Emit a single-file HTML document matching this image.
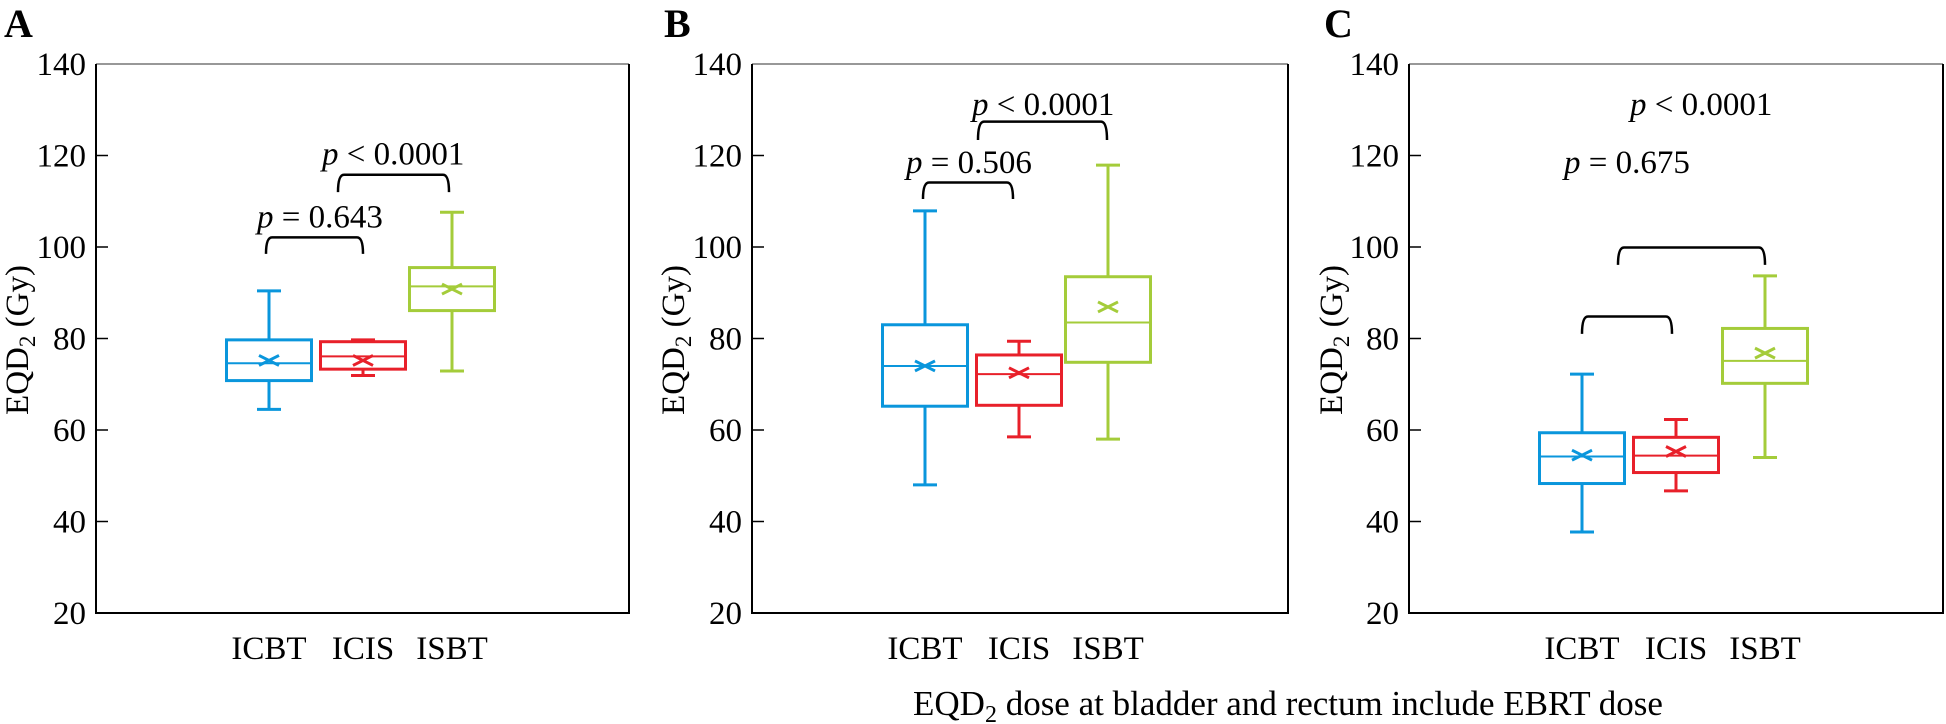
<!DOCTYPE html>
<html><head><meta charset="utf-8">
<style>
html,body{margin:0;padding:0;background:#fff;}
svg{display:block;font-family:"Liberation Serif",serif;}
</style></head>
<body>
<svg id="chart" width="1946" height="724" viewBox="0 0 1946 724" xmlns="http://www.w3.org/2000/svg"></svg>
<script>
const categories = ["ICBT","ICIS","ISBT"];
const yTicks = [20,40,60,80,100,120,140];
const panelLetters = ["A","B","C"];
// [whiskerLow, Q1, median, Q3, whiskerHigh, mean] per category
const panelA = [[64.5,70.8,74.6,79.7,90.4,75.2],[71.9,73.3,76.1,79.3,79.7,75.2],[72.9,86.1,91.4,95.5,107.6,90.8]];
const panelB = [[48.0,65.2,74.0,83.0,107.9,74.0],[58.5,65.4,72.2,76.4,79.4,72.5],[58.0,74.8,83.5,93.5,117.9,86.9]];
const panelC = [[37.7,48.3,54.2,59.4,72.2,54.5],[46.7,50.7,54.4,58.4,62.3,55.3],[54.0,70.2,75.1,82.2,93.7,76.8]];
// brackets: [barValue, legValue]
const bracketsA = [[102.1,98.5],[115.8,112.0]];
const bracketsB = [[114.1,110.5],[127.4,123.4]];
const bracketsC = [[84.8,81.0],[99.9,96.1]];
const pLabelsA = ["= 0.643","< 0.0001"];
const pLabelsB = ["= 0.506","< 0.0001"];
const pLabelsC = ["= 0.675","< 0.0001"];
const pLabelValsA = [104.3,118.0];
const pLabelValsB = [116.2,128.9];
const pLabelValsC = [116.2,128.9];

const colors = ["#0a96dc","#e8202a","#a4cc3a"];
const NS = "http://www.w3.org/2000/svg";
const svg = document.getElementById("chart");
const TOP = 64, BOT = 613;
const FS = 33;
function y(v){ return BOT - (v-20)/(140-20)*(BOT-TOP); }
function mk(tag, attrs, parent){ const e=document.createElementNS(NS,tag); for(const k in attrs) e.setAttribute(k,attrs[k]); (parent||svg).appendChild(e); return e; }

const panels = [
 {left:96,right:629,data:panelA,br:bracketsA,pl:pLabelsA,pv:pLabelValsA,letterX:4,titleX:28,labelX:[257,322],br1x:[266,363],br2x:[338,449]},
 {left:752,right:1288,data:panelB,br:bracketsB,pl:pLabelsB,pv:pLabelValsB,letterX:664,titleX:684,labelX:[906,972],br1x:[923,1013],br2x:[978,1107]},
 {left:1409,right:1943,data:panelC,br:bracketsC,pl:pLabelsC,pv:pLabelValsC,letterX:1324,titleX:1342,labelX:[1564,1630],br1x:[1582,1672],br2x:[1618,1765]}
];
const catOffsets = [173,267,356];
const boxW = 85;

panels.forEach((p,pi)=>{
  const g = mk("g",{});
  
  
  const letter = mk("text",{x:p.letterX,y:37,"font-size":40,"font-weight":"bold",fill:"#000"},g);
  letter.textContent = panelLetters[pi];
  
  
  mk("line",{x1:p.left,y1:TOP,x2:p.right,y2:TOP,stroke:"#777","stroke-width":1.5},g);
  const frame = mk("path",{d:`M${p.left},${TOP} V${BOT} H${p.right} V${TOP}`,fill:"none",stroke:"#000","stroke-width":2},g);
  
  
  yTicks.forEach(t=>{
    if(t!==20 && t!==140) mk("line",{x1:p.left,y1:y(t),x2:p.left+12,y2:y(t),stroke:"#000","stroke-width":1.5},g);
    const tl = mk("text",{x:p.left-10,y:y(t)+11,"font-size":FS,"text-anchor":"end",fill:"#000"},g);
    tl.textContent = t;
    
    
  });
  const cy = 340;
  const yt = mk("text",{x:p.titleX,y:cy,"font-size":FS,"text-anchor":"middle",fill:"#000",transform:`rotate(-90 ${p.titleX} ${cy})`},g);
  yt.innerHTML = 'EQD<tspan font-size="23" dy="7">2</tspan><tspan dy="-7"> (Gy)</tspan>';
  
  
  p.data.forEach((d,ci)=>{
    const cx = p.left + catOffsets[ci];
    const c = colors[ci];
    const bg = mk("g",{stroke:c,"stroke-width":3,fill:"none"},g);
    
    
    mk("line",{x1:cx,y1:y(d[4]),x2:cx,y2:y(d[3])},bg);
    mk("line",{x1:cx,y1:y(d[1]),x2:cx,y2:y(d[0])},bg);
    mk("line",{x1:cx-12,y1:y(d[4]),x2:cx+12,y2:y(d[4])},bg);
    mk("line",{x1:cx-12,y1:y(d[0]),x2:cx+12,y2:y(d[0])},bg);
    mk("rect",{x:cx-boxW/2,y:y(d[3]),width:boxW,height:y(d[1])-y(d[3])},bg);
    mk("line",{x1:cx-boxW/2,y1:y(d[2]),x2:cx+boxW/2,y2:y(d[2]),"stroke-width":2},bg);
    const my=y(d[5]);
    mk("path",{d:`M${cx-10},${my-5} L${cx+10},${my+5} M${cx-10},${my+5} L${cx+10},${my-5}`},bg);
    const xl = mk("text",{x:cx,y:659,"font-size":FS,"text-anchor":"middle",fill:"#000",stroke:"none"},g);
    xl.textContent = categories[ci];
    
    
  });
  [p.br1x,p.br2x].forEach((bx,bi)=>{
    const b=p.br[bi];
    const br = mk("path",{d:`M${bx[0]},${y(b[1])} Q${bx[0]},${y(b[0])} ${bx[0]+6},${y(b[0])} H${bx[1]-6} Q${bx[1]},${y(b[0])} ${bx[1]},${y(b[1])}`,fill:"none",stroke:"#000","stroke-width":2.5},g);
    
    
    const pt = mk("text",{x:p.labelX[bi],y:y(p.pv[bi]),"font-size":FS,fill:"#000"},g);
    pt.innerHTML = '<tspan font-style="italic">p</tspan> '+p.pl[bi].replace('<','&lt;');
    
    
  });
});
const cap = mk("text",{x:913,y:715,"font-size":35,fill:"#000"});
cap.innerHTML = 'EQD<tspan font-size="24" dy="7">2</tspan><tspan dy="-7"> dose at bladder and rectum include EBRT dose</tspan>';


</script>
</body></html>
